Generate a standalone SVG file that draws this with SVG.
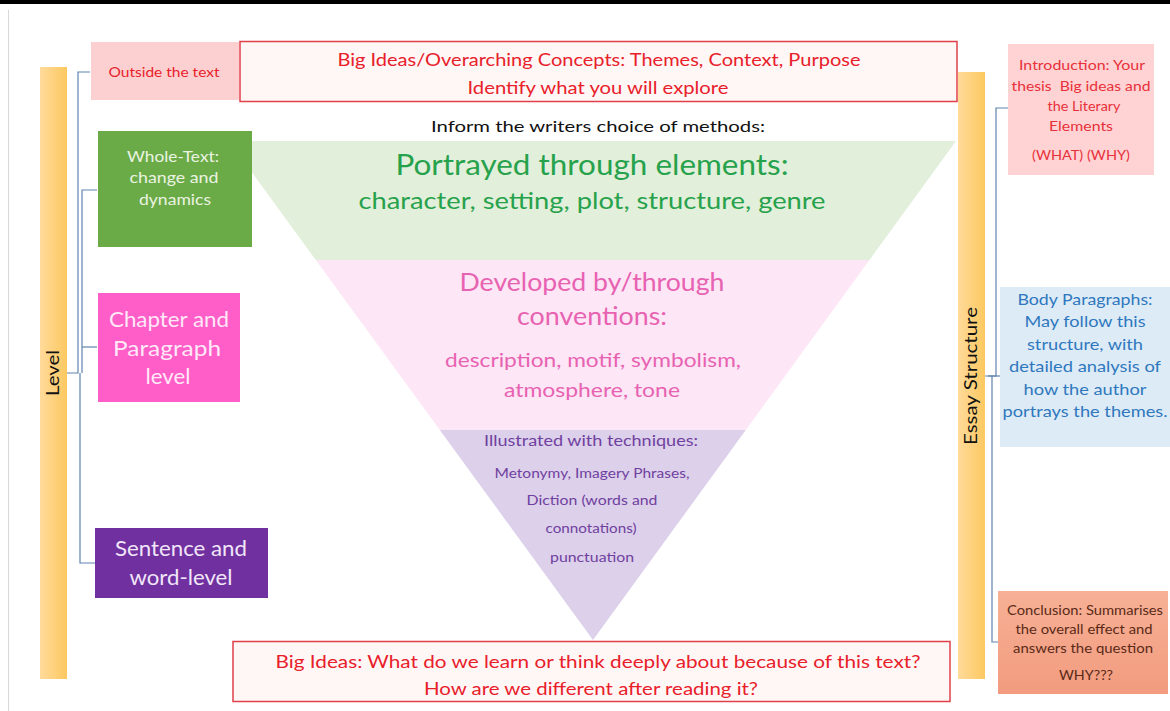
<svg xmlns="http://www.w3.org/2000/svg" width="1170" height="711" viewBox="0 0 1170 711">
<defs>
<linearGradient id="bar" x1="0" y1="0" x2="1" y2="0">
<stop offset="0" stop-color="#FFDA9A"/><stop offset="1" stop-color="#FCC860"/>
</linearGradient>
<linearGradient id="concl" x1="0" y1="0" x2="0" y2="1">
<stop offset="0" stop-color="#F7B196"/><stop offset="1" stop-color="#F29B7E"/>
</linearGradient>
<clipPath id="tri"><polygon points="229,141 956,141 593,640"/></clipPath>
</defs>
<style>
text{font-family:Lato,"Liberation Sans",sans-serif;text-anchor:middle}
.red{fill:#E8202A}
.redbox{fill:#FFF6F6;stroke:#E0404A;stroke-width:1.5}
.conn{fill:none;stroke:#5F83AE;stroke-width:1.2}
.wt{fill:#EAF3E2;font-size:16px}
.ch{fill:#FFE8F7;font-size:21px}
.se{fill:#F0E6F8;font-size:21px}
.gr{fill:#27A24C}
.pk{fill:#E862B2}
.pu{fill:#7040A0}
.intro{fill:#E8303A;font-size:13.5px}
.body{fill:#2F78BE;font-size:16px}
.con{fill:#5A2A18;font-size:13px}
</style>
<rect width="1170" height="711" fill="#FFFFFF"/>
<rect x="0" y="0" width="1170" height="4" fill="#000000"/>
<line x1="8.5" y1="10" x2="8.5" y2="711" stroke="#D8D8D8" stroke-width="1"/>

<g id="pyramid">
<g clip-path="url(#tri)">
<rect x="200" y="141" width="800" height="119" fill="#E2EFDA"/>
<rect x="200" y="260" width="800" height="170" fill="#FDE6F5"/>
<rect x="200" y="430" width="800" height="220" fill="#DCD0EA"/>
</g>
<text x="592" y="175" class="gr" font-size="28" textLength="393" lengthAdjust="spacingAndGlyphs">Portrayed through elements:</text>
<text x="592" y="209" class="gr" font-size="23" textLength="467" lengthAdjust="spacingAndGlyphs">character, setting, plot, structure, genre</text>
<text x="592" y="291" class="pk" font-size="25" textLength="265" lengthAdjust="spacingAndGlyphs">Developed by/through</text>
<text x="592" y="325" class="pk" font-size="25" textLength="150" lengthAdjust="spacingAndGlyphs">conventions:</text>
<text x="593" y="367" class="pk" font-size="19" textLength="296" lengthAdjust="spacingAndGlyphs">description, motif, symbolism,</text>
<text x="592" y="397" class="pk" font-size="19" textLength="176" lengthAdjust="spacingAndGlyphs">atmosphere, tone</text>
<text x="591" y="446" class="pu" font-size="14.5" textLength="214" lengthAdjust="spacingAndGlyphs">Illustrated with techniques:</text>
<text x="592" y="478" class="pu" font-size="13" textLength="195" lengthAdjust="spacingAndGlyphs">Metonymy, Imagery Phrases,</text>
<text x="592" y="505" class="pu" font-size="13" textLength="131" lengthAdjust="spacingAndGlyphs">Diction (words and</text>
<text x="591" y="533" class="pu" font-size="13" textLength="91" lengthAdjust="spacingAndGlyphs">connotations)</text>
<text x="592" y="562" class="pu" font-size="13" textLength="84" lengthAdjust="spacingAndGlyphs">punctuation</text>
</g>

<g id="connectors">
<path class="conn" d="M90,72 H78 V373 H67"/>
<path class="conn" d="M97,190 H82 V373"/>
<path class="conn" d="M97,347 H82"/>
<path class="conn" d="M95,563 H80 V373"/>
<path class="conn" d="M1008,108 H996 V376 H985"/>
<path class="conn" d="M1000,376 H988"/>
<path class="conn" d="M1000,642 H992 V376"/>
</g>

<g id="level-bar">
<rect x="40" y="67" width="27" height="612" fill="url(#bar)"/>
<text transform="translate(59,373) rotate(-90)" font-size="18" fill="#111111" textLength="46" lengthAdjust="spacingAndGlyphs">Level</text>
</g>

<g id="essay-bar">
<rect x="958" y="72" width="27" height="607" fill="url(#bar)"/>
<text transform="translate(977,376) rotate(-90)" font-size="17" fill="#111111" textLength="138" lengthAdjust="spacingAndGlyphs">Essay Structure</text>
</g>

<g id="outside">
<rect x="91" y="42" width="148" height="58" fill="#FCD0D0"/>
<text x="164" y="77" class="red" font-size="13.5" textLength="111" lengthAdjust="spacingAndGlyphs">Outside the text</text>
</g>

<g id="big-ideas-top">
<rect x="240" y="41.5" width="717" height="60" class="redbox"/>
<text x="599" y="66" class="red" font-size="18" textLength="523" lengthAdjust="spacingAndGlyphs">Big Ideas/Overarching Concepts: Themes, Context, Purpose</text>
<text x="598" y="94" class="red" font-size="18" textLength="261" lengthAdjust="spacingAndGlyphs">Identify what you will explore</text>
</g>

<g id="inform">
<text x="598" y="132" font-size="15.5" fill="#111111" textLength="334" lengthAdjust="spacingAndGlyphs">Inform the writers choice of methods:</text>
</g>

<g id="whole-text">
<rect x="98" y="131" width="154" height="116" fill="#6AAB47"/>
<text x="173" y="162" class="wt" textLength="92" lengthAdjust="spacingAndGlyphs">Whole-Text:</text>
<text x="174" y="183" class="wt" textLength="89" lengthAdjust="spacingAndGlyphs">change and</text>
<text x="175" y="205" class="wt" textLength="72" lengthAdjust="spacingAndGlyphs">dynamics</text>
</g>

<g id="chapter">
<rect x="98" y="293" width="142" height="109" fill="#FF5DC8"/>
<text x="169" y="327" class="ch" textLength="120" lengthAdjust="spacingAndGlyphs">Chapter and</text>
<text x="167" y="356" class="ch" textLength="108" lengthAdjust="spacingAndGlyphs">Paragraph</text>
<text x="168" y="384" class="ch" textLength="45" lengthAdjust="spacingAndGlyphs">level</text>
</g>

<g id="sentence">
<rect x="95" y="528" width="173" height="70" fill="#7030A0"/>
<text x="181" y="556" class="se" textLength="132" lengthAdjust="spacingAndGlyphs">Sentence and</text>
<text x="181" y="585" class="se" textLength="103" lengthAdjust="spacingAndGlyphs">word-level</text>
</g>

<g id="big-ideas-bottom">
<rect x="233" y="641.5" width="717" height="60" class="redbox"/>
<text x="598" y="668" class="red" font-size="18" textLength="645" lengthAdjust="spacingAndGlyphs">Big Ideas: What do we learn or think deeply about because of this text?</text>
<text x="591" y="695" class="red" font-size="18" textLength="334" lengthAdjust="spacingAndGlyphs">How are we different after reading it?</text>
</g>

<g id="introduction">
<rect x="1008" y="44" width="146" height="131" fill="#FFD3D3"/>
<text x="1082" y="70" class="intro" textLength="126" lengthAdjust="spacingAndGlyphs">Introduction: Your</text>
<text x="1081" y="91" class="intro" xml:space="preserve" textLength="139" lengthAdjust="spacingAndGlyphs">thesis  Big ideas and</text>
<text x="1084" y="111" class="intro" textLength="73" lengthAdjust="spacingAndGlyphs">the Literary</text>
<text x="1081" y="131" class="intro" textLength="64" lengthAdjust="spacingAndGlyphs">Elements</text>
<text x="1081" y="160" class="intro" font-size="12.5" textLength="98" lengthAdjust="spacingAndGlyphs">(WHAT) (WHY)</text>
</g>

<g id="body">
<rect x="1000" y="287" width="170" height="160" fill="#DDEBF7"/>
<text x="1085" y="305" class="body" textLength="135" lengthAdjust="spacingAndGlyphs">Body Paragraphs:</text>
<text x="1085" y="327" class="body" textLength="121" lengthAdjust="spacingAndGlyphs">May follow this</text>
<text x="1085" y="350" class="body" textLength="116" lengthAdjust="spacingAndGlyphs">structure, with</text>
<text x="1085" y="372" class="body" textLength="152" lengthAdjust="spacingAndGlyphs">detailed analysis of</text>
<text x="1085" y="395" class="body" textLength="123" lengthAdjust="spacingAndGlyphs">how the author</text>
<text x="1085" y="417" class="body" textLength="165" lengthAdjust="spacingAndGlyphs">portrays the themes.</text>
</g>

<g id="conclusion">
<rect x="998" y="591" width="170" height="103" fill="url(#concl)"/>
<text x="1085" y="615" class="con" textLength="156" lengthAdjust="spacingAndGlyphs">Conclusion: Summarises</text>
<text x="1084" y="634" class="con" textLength="137" lengthAdjust="spacingAndGlyphs">the overall effect and</text>
<text x="1083" y="653" class="con" textLength="140" lengthAdjust="spacingAndGlyphs">answers the question</text>
<text x="1086" y="680" class="con" textLength="54" lengthAdjust="spacingAndGlyphs">WHY???</text>
</g>
</svg>
